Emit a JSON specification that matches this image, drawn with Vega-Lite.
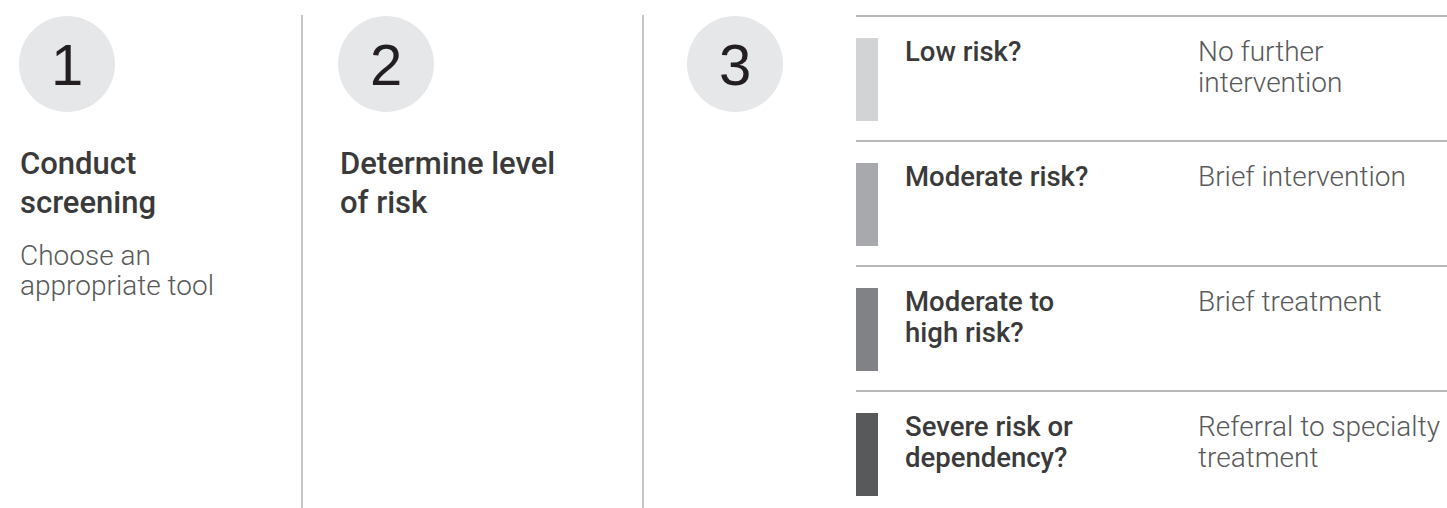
{
  "$schema": "https://vega.github.io/schema/vega-lite/v6.json",
  "width": 1447,
  "height": 508,
  "padding": 0,
  "autosize": {"type": "none"},
  "background": "white",
  "config": {
    "view": {"stroke": null},
    "axis": {"disable": true},
    "legend": {"disable": true}
  },
  "datasets": {
    "steps": [
      {"step": 1, "title": "Conduct\nscreening", "detail": "Choose an\nappropriate tool"},
      {"step": 2, "title": "Determine level\nof risk", "detail": ""},
      {"step": 3, "title": "", "detail": ""}
    ],
    "risks": [
      {"level": 1, "risk": "Low risk?", "action": "No further\nintervention"},
      {"level": 2, "risk": "Moderate risk?", "action": "Brief intervention"},
      {"level": 3, "risk": "Moderate to\nhigh risk?", "action": "Brief treatment"},
      {"level": 4, "risk": "Severe risk or\ndependency?", "action": "Referral to specialty\ntreatment"}
    ]
  },
  "resolve": {"scale": {"x": "independent", "y": "independent", "color": "independent"}},
  "layer": [
    {
      "data": {"name": "steps"},
      "mark": {"type": "point", "filled": true, "opacity": 1, "color": "#e6e7e8", "size": 9216, "strokeWidth": 0},
      "encoding": {
        "x": {"field": "step", "type": "quantitative", "scale": {"domain": [1, 2, 3], "range": [67, 386, 735], "nice": false, "zero": false}},
        "y": {"datum": 1, "type": "quantitative", "scale": {"domain": [0, 1], "range": [0, 64], "nice": false, "zero": false}}
      }
    },
    {
      "data": {"name": "steps"},
      "mark": {"type": "text", "font": "Liberation Sans", "fontSize": 58, "color": "#231f20", "align": "center", "baseline": "alphabetic"},
      "encoding": {
        "x": {"field": "step", "type": "quantitative", "scale": {"domain": [1, 2, 3], "range": [67, 386, 735], "nice": false, "zero": false}},
        "y": {"datum": 1, "type": "quantitative", "scale": {"domain": [0, 1], "range": [0, 85], "nice": false, "zero": false}},
        "text": {"field": "step", "type": "nominal"}
      }
    },
    {
      "data": {"name": "steps"},
      "transform": [{"filter": "datum.step < 3"}],
      "mark": {"type": "rule", "color": "#a0a0a0", "strokeWidth": 1.2},
      "encoding": {
        "x": {"field": "step", "type": "quantitative", "scale": {"domain": [1, 2], "range": [302, 643], "nice": false, "zero": false}},
        "y": {"datum": 0, "type": "quantitative", "scale": {"domain": [0, 1], "range": [15, 508], "nice": false, "zero": false}},
        "y2": {"datum": 1}
      }
    },
    {
      "data": {"name": "steps"},
      "transform": [
        {"fold": ["title", "detail"], "as": ["part", "text"]},
        {"filter": "datum.part === 'title' && datum.text !== ''"}
      ],
      "mark": {"type": "text", "font": "Roboto", "fontWeight": 500, "fontSize": 31, "color": "#3a3a3a", "align": "left", "baseline": "alphabetic", "lineBreak": "\n", "lineHeight": 39},
      "encoding": {
        "x": {"field": "step", "type": "quantitative", "scale": {"domain": [1, 2], "range": [20, 340], "nice": false, "zero": false}},
        "y": {"field": "part", "type": "nominal", "scale": {"type": "point", "domain": ["title", "detail"], "range": [174, 265], "padding": 0}},
        "text": {"field": "text", "type": "nominal"}
      }
    },
    {
      "data": {"name": "steps"},
      "transform": [
        {"fold": ["title", "detail"], "as": ["part", "text"]},
        {"filter": "datum.part === 'detail' && datum.text !== ''"}
      ],
      "mark": {"type": "text", "font": "Roboto", "fontWeight": 300, "fontSize": 28, "color": "#58595b", "align": "left", "baseline": "alphabetic", "lineBreak": "\n", "lineHeight": 30},
      "encoding": {
        "x": {"field": "step", "type": "quantitative", "scale": {"domain": [1, 2], "range": [20, 340], "nice": false, "zero": false}},
        "y": {"field": "part", "type": "nominal", "scale": {"type": "point", "domain": ["title", "detail"], "range": [174, 265], "padding": 0}},
        "text": {"field": "text", "type": "nominal"}
      }
    },
    {
      "data": {"name": "risks"},
      "mark": {"type": "rule", "color": "#a0a0a0", "strokeWidth": 1.5},
      "encoding": {
        "y": {"field": "level", "type": "quantitative", "scale": {"domain": [1, 4], "range": [16, 391], "nice": false, "zero": false}},
        "x": {"datum": 0, "type": "quantitative", "scale": {"domain": [0, 1], "range": [856, 1447], "nice": false, "zero": false}},
        "x2": {"datum": 1}
      }
    },
    {
      "data": {"name": "risks"},
      "mark": {"type": "rect"},
      "encoding": {
        "x": {"datum": 0, "type": "quantitative", "scale": {"domain": [0, 1], "range": [856, 878], "nice": false, "zero": false}},
        "x2": {"datum": 1},
        "y": {"field": "level", "type": "ordinal", "scale": {"type": "band", "domain": [1, 2, 3, 4], "range": [38, 496], "paddingInner": 0.336, "paddingOuter": 0}},
        "color": {"field": "level", "type": "ordinal", "scale": {"domain": [1, 2, 3, 4], "range": ["#d1d3d4", "#a7a9ac", "#808285", "#58595b"]}}
      }
    },
    {
      "data": {"name": "risks"},
      "transform": [
        {"fold": ["risk", "action"], "as": ["col", "text"]},
        {"filter": "datum.col === 'risk'"}
      ],
      "mark": {"type": "text", "font": "Roboto", "fontWeight": 500, "fontSize": 27.5, "color": "#3a3a3a", "align": "left", "baseline": "alphabetic", "lineBreak": "\n", "lineHeight": 31},
      "encoding": {
        "x": {"field": "col", "type": "nominal", "scale": {"type": "point", "domain": ["risk", "action"], "range": [905, 1198], "padding": 0}},
        "y": {"field": "level", "type": "quantitative", "scale": {"domain": [1, 4], "range": [61, 436], "nice": false, "zero": false}},
        "text": {"field": "text", "type": "nominal"}
      }
    },
    {
      "data": {"name": "risks"},
      "transform": [
        {"fold": ["risk", "action"], "as": ["col", "text"]},
        {"filter": "datum.col === 'action'"}
      ],
      "mark": {"type": "text", "font": "Roboto", "fontWeight": 300, "fontSize": 28, "color": "#58595b", "align": "left", "baseline": "alphabetic", "lineBreak": "\n", "lineHeight": 31},
      "encoding": {
        "x": {"field": "col", "type": "nominal", "scale": {"type": "point", "domain": ["risk", "action"], "range": [905, 1198], "padding": 0}},
        "y": {"field": "level", "type": "quantitative", "scale": {"domain": [1, 4], "range": [61, 436], "nice": false, "zero": false}},
        "text": {"field": "text", "type": "nominal"}
      }
    }
  ]
}
